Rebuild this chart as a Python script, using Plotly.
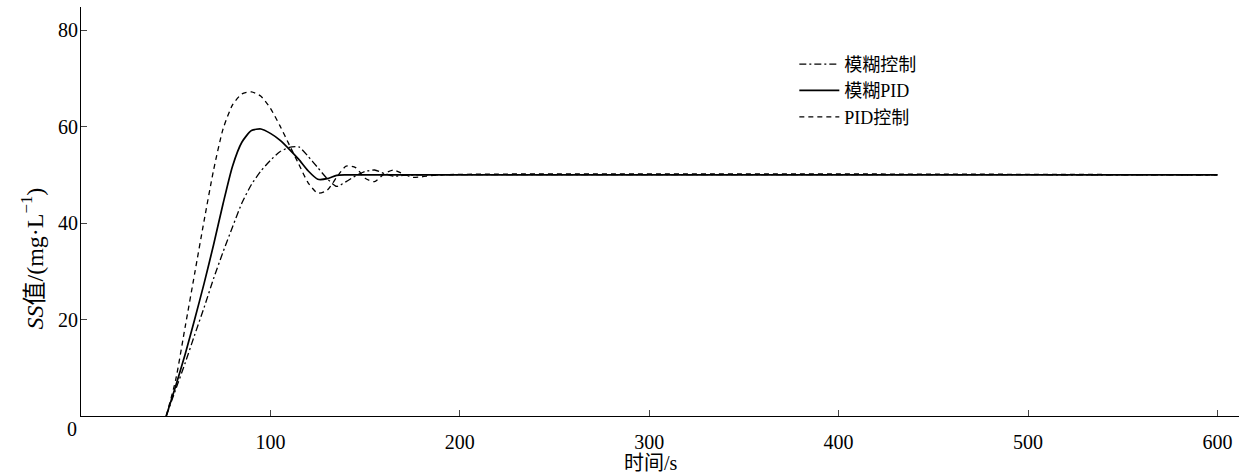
import plotly.graph_objects as go

# time axis (s)
t_fuzzy = [45, 50, 55, 60, 65, 70, 75, 80, 85, 90, 95, 100, 105, 110, 115, 120, 125, 130,
           135, 140, 145, 150, 155, 160, 165, 170, 180, 600]
y_fuzzy = [0, 5.5, 11, 16.8, 22.5, 28.5, 34, 39.2, 44.2, 48, 50.8, 53, 54.8, 55.7, 55.8, 53.8,
           51.5, 49.2, 47.6, 48.6, 49.8, 50.7, 51, 50.3, 49.7, 49.9, 50, 50]

t_fpid = [45, 50, 55, 60, 65, 70, 75, 80, 85, 90, 95, 100, 105, 110, 115, 120, 125, 130, 135, 140, 600]
y_fpid = [0, 6.2, 12.8, 20, 27.5, 35.5, 44, 51.8, 56.8, 59.2, 59.5, 58.6, 57.2, 55.3, 53.2, 50.8,
          49.1, 49.2, 49.9, 50, 50]

t_pid = [45, 50, 55, 60, 65, 70, 75, 80, 85, 90, 95, 100, 105, 110, 115, 120, 125, 130, 135, 140,
         145, 150, 155, 160, 165, 170, 175, 180, 190, 600]
y_pid = [0, 7.5, 18.5, 29.5, 40.5, 51, 59.5, 64.5, 66.8, 67.2, 66.3, 63.8, 60.2, 56.2, 52.2, 48.3,
         46.2, 46.8, 49.5, 51.8, 51.5, 49.3, 48.6, 50.2, 51, 50.2, 49.5, 49.6, 50, 50]

series_names = ["模糊控制", "模糊PID", "PID控制"]
x_ticks = [100, 200, 300, 400, 500, 600]
y_ticks = [20, 40, 60, 80]

FONT = "Liberation Serif, Times New Roman, Noto Sans CJK SC, serif"

fig = go.Figure()
fig.add_trace(go.Scatter(x=t_fuzzy, y=y_fuzzy, name=series_names[0], mode="lines",
                         line=dict(color="black", width=1.3, dash="7px,3px,2px,3px", shape="spline", smoothing=0.6)))
fig.add_trace(go.Scatter(x=t_fpid, y=y_fpid, name=series_names[1], mode="lines",
                         line=dict(color="black", width=1.7, shape="spline", smoothing=0.6)))
fig.add_trace(go.Scatter(x=t_pid, y=y_pid, name=series_names[2], mode="lines",
                         line=dict(color="black", width=1.3, dash="5px,4px", shape="spline", smoothing=0.6)))

fig.update_layout(
    width=1256, height=476,
    margin=dict(l=81, r=17, t=7, b=60, autoexpand=False),
    paper_bgcolor="white", plot_bgcolor="white",
    font=dict(family=FONT, size=20, color="black"),
    showlegend=True,
    legend=dict(x=0.616, y=0.905, xanchor="left", yanchor="top",
                bgcolor="rgba(0,0,0,0)", font=dict(size=18, family=FONT),
                tracegroupgap=0, itemwidth=40),
    xaxis=dict(range=[0, 611.4], tickvals=x_ticks, ticks="inside", ticklen=6,
               showline=True, linecolor="black", linewidth=1, showgrid=False,
               zeroline=False, automargin=False, ticklabelstandoff=8,
               tickfont=dict(size=20, family=FONT)),
    yaxis=dict(range=[0, 84.8], tickvals=y_ticks, ticks="inside", ticklen=6,
               showline=True, linecolor="black", linewidth=1, showgrid=False,
               zeroline=False, automargin=False, ticklabelstandoff=-2,
               tickfont=dict(size=20, family=FONT)),
    annotations=[
        dict(text="0", xref="paper", yref="paper", x=0, y=0, xanchor="right", yanchor="top",
             xshift=-2, yshift=0, showarrow=False, font=dict(size=20, family=FONT)),
        dict(text="时间/s", xref="paper", yref="paper", x=0.492, y=0, xanchor="center",
             yanchor="top", yshift=-34, showarrow=False, font=dict(size=20, family=FONT)),
        dict(text="<i>SS</i>值/(mg·L<sup>−1</sup>)", xref="paper", yref="paper", x=0, y=0.385,
             xanchor="center", yanchor="middle", xshift=-49, textangle=-90, showarrow=False,
             font=dict(size=24, family=FONT)),
    ],
)

fig.write_html("out.html", config={"displayModeBar": False},
               post_script="document.body.style.margin='0';document.body.style.overflow='hidden';")
